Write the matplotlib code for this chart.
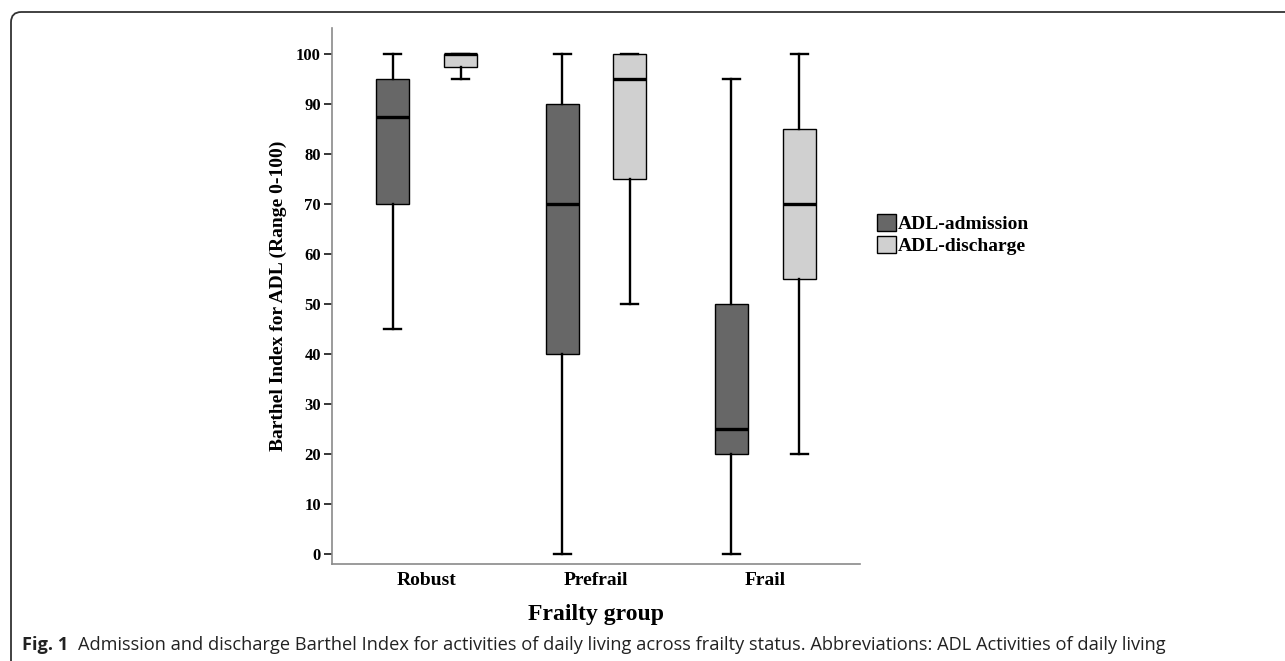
import matplotlib
matplotlib.use("Agg")
import matplotlib.pyplot as plt
from matplotlib.patches import Patch, FancyBboxPatch

# ---- data ----
groups = ["Robust", "Prefrail", "Frail"]
series = ["ADL-admission", "ADL-discharge"]
# per group: (whislo, q1, median, q3, whishi)
admission_whislo = [45, 0, 0]
admission_q1 = [70, 40, 20]
admission_med = [87.5, 70, 25]
admission_q3 = [95, 90, 50]
admission_whishi = [100, 100, 95]

discharge_whislo = [95, 50, 20]
discharge_q1 = [97.5, 75, 55]
discharge_med = [100, 95, 70]
discharge_q3 = [100, 100, 85]
discharge_whishi = [100, 100, 100]

yticks = [0, 10, 20, 30, 40, 50, 60, 70, 80, 90, 100]
colors = ["#676767", "#d0d0d0"]

W, H = 1285, 661
fig = plt.figure(figsize=(W / 100, H / 100), dpi=100)
ax = fig.add_axes([332 / W, 1 - 564 / H, (860 - 332) / W, (564 - 28.3) / H])

serif = "Liberation Serif"

def stats(lo, q1, med, q3, hi):
    return [dict(whislo=a, q1=b, med=c, q3=d, whishi=e, fliers=[])
            for a, b, c, d, e in zip(lo, q1, med, q3, hi)]

adm = stats(admission_whislo, admission_q1, admission_med, admission_q3, admission_whishi)
dis = stats(discharge_whislo, discharge_q1, discharge_med, discharge_q3, discharge_whishi)

off = 0.2
bw = 0.195
for st, sign, col in [(adm, -1, colors[0]), (dis, 1, colors[1])]:
    pos = [i + sign * off for i in range(len(groups))]
    ax.bxp(st, positions=pos, widths=bw, capwidths=0.1, patch_artist=True,
           showfliers=False, manage_ticks=False,
           boxprops=dict(facecolor=col, edgecolor="black", linewidth=1.0),
           medianprops=dict(color="black", linewidth=2.4),
           whiskerprops=dict(color="black", linewidth=1.7),
           capprops=dict(color="black", linewidth=1.7))

ax.set_xlim(-0.56, 2.56)
ax.set_ylim(-2.06, 105.2)
ax.set_xticks(range(len(groups)))
ax.set_xticklabels(groups, fontfamily=serif, fontweight="bold", fontsize=14)
ax.set_yticks(yticks)
ax.set_yticklabels([str(t) for t in yticks], fontfamily=serif, fontweight="bold", fontsize=12)
ax.tick_params(axis="x", length=0, pad=6)
ax.tick_params(axis="y", length=6, width=1.1, color="black", pad=2)
for s in ["top", "right"]:
    ax.spines[s].set_visible(False)
for s in ["left", "bottom"]:
    ax.spines[s].set_color("#8a8a8a")
    ax.spines[s].set_linewidth(1.2)

ax.set_ylabel("Barthel Index for ADL (Range 0-100)", fontfamily=serif,
              fontweight="bold", fontsize=14)
ax.yaxis.set_label_coords((287 - 332) / (860 - 332), 0.5)
ax.set_xlabel("Frailty group", fontfamily=serif, fontweight="bold", fontsize=17)
ax.xaxis.set_label_coords(0.5, -(604 - 564) / (564 - 28.3))

handles = [Patch(facecolor=c, edgecolor="black", linewidth=1.0) for c in colors]
fig.legend(handles, series, loc="upper left",
           bbox_to_anchor=(877 / W, 1 - 214 / H), frameon=False,
           borderpad=0, borderaxespad=0, handlelength=0.98, handleheight=1.0,
           handletextpad=0.1, labelspacing=0.12,
           prop=dict(family=serif, weight="bold", size=14))

# frame with rounded top-left corner
frame = FancyBboxPatch((11 / W, -0.2), (W + 100) / W, (1 - 12 / H) + 0.2,
                       boxstyle="round,pad=0,rounding_size=0.008",
                       transform=fig.transFigure, facecolor="none",
                       edgecolor="#333333", linewidth=1.3, clip_on=False,
                       mutation_aspect=W / H)
fig.patches.append(frame)

# caption
cap_font = "Open Sans"
cap_size = 13.15
t1 = fig.text(22 / W, 1 - 645 / H, "Fig. 1", fontfamily=cap_font, fontweight="bold",
              fontsize=cap_size, va="center", ha="left", color="#222222")
fig.canvas.draw()
r = fig.canvas.get_renderer()
bb = t1.get_window_extent(r)
fig.text((bb.x1 + 10) / W, 1 - 645 / H,
         "Admission and discharge Barthel Index for activities of daily living across frailty status. Abbreviations: ADL Activities of daily living",
         fontfamily=cap_font, fontsize=cap_size, va="center", ha="left", color="#222222")

fig.savefig("out.png", dpi=100)
